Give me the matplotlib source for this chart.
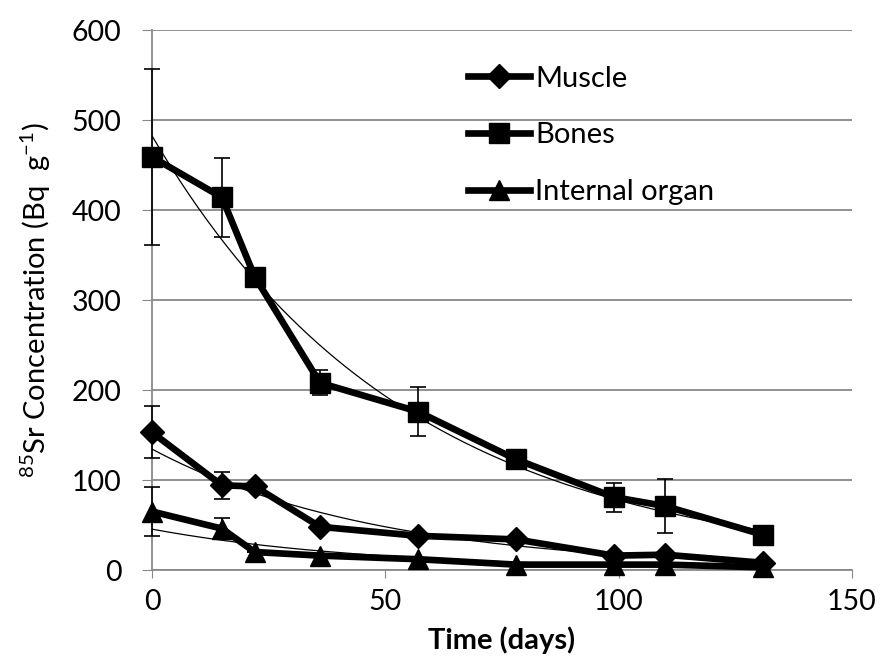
import numpy as np
import matplotlib.pyplot as plt

plt.rcParams['font.family'] = ['Lato', 'DejaVu Sans']
plt.rcParams['mathtext.fontset'] = 'custom'
plt.rcParams['mathtext.rm'] = 'Lato'
plt.rcParams['mathtext.it'] = 'Lato:italic'
plt.rcParams['mathtext.bf'] = 'Lato:bold'

days = [0, 15, 22, 36, 57, 78, 99, 110, 131]

muscle = [153, 94, 93, 48, 38, 34, 16, 17, 8]
muscle_err = [29, 15, 0, 0, 0, 0, 0, 0, 0]

bones = [459, 414, 326, 208, 176, 123, 81, 71, 39]
bones_err = [98, 44, 0, 14, 27, 0, 16, 30, 0]

organ = [65, 46, 20, 16, 12, 6, 6, 6, 3]
organ_err = [27, 12, 0, 0, 0, 0, 0, 0, 0]

series = [
    ('Muscle', muscle, muscle_err, 'D', 12),
    ('Bones', bones, bones_err, 's', 14),
    ('Internal organ', organ, organ_err, '^', 15),
]

fig = plt.figure(figsize=(8.8, 6.57), dpi=100)
ax = fig.add_axes([0.1727, 0.1324, 0.7955, 0.8219])

x = np.array(days, dtype=float)
xs = np.linspace(0, 131, 200)
for name, vals, err, mk, ms in series:
    y = np.array(vals, dtype=float)
    eb = ax.errorbar(x, y, yerr=err, fmt='none', ecolor='black', elinewidth=1.2,
                     capsize=6, capthick=1.2, zorder=3)
    for art in eb.lines[1] + eb.lines[2]:
        art.set_clip_on(False)
    ax.plot(x, y, color='black', lw=4.8, marker=mk, ms=ms, label=name,
            zorder=4, clip_on=False)
    # exponential trendline: ln(y) = ln(a) + b*x
    b, lna = np.polyfit(x, np.log(y), 1)
    ax.plot(xs, np.exp(lna) * np.exp(b * xs), color='black', lw=0.9, zorder=5)

ax.set_xlim(0, 150)
ax.set_ylim(0, 600)
ax.set_xticks([0, 50, 100, 150])
ax.set_yticks(range(0, 601, 100))
ax.grid(axis='y', color='#888888', lw=1.3)
ax.set_axisbelow(True)

for s in ['top', 'right']:
    ax.spines[s].set_visible(False)
ax.spines['left'].set_color('#888888')
ax.spines['bottom'].set_color('#888888')
ax.spines['left'].set_linewidth(1.3)
ax.spines['bottom'].set_linewidth(1.3)
ax.tick_params(axis='y', direction='out', length=7, color='#888888',
               labelsize=20.5, pad=15)
ax.tick_params(axis='x', direction='out', length=6, color='#888888',
               labelsize=20.5, pad=8)

ax.set_xlabel('Time (days)', fontsize=21, fontweight='bold', labelpad=8)
ax.set_ylabel(r'$^{85}$Sr Concentration (Bq  g$^{-1}$)', fontsize=21, labelpad=13)

ax.legend(loc='upper left', bbox_to_anchor=(0.452, 0.934), frameon=False,
          fontsize=21, handlelength=2.1, handletextpad=0.2, labelspacing=1.05,
          borderpad=0, borderaxespad=0)

fig.savefig('out.png', dpi=100)
